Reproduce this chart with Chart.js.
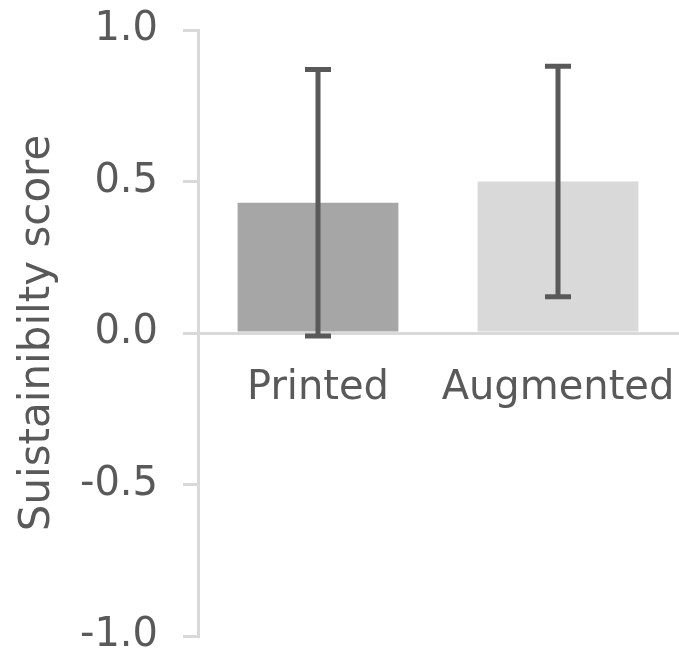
<!DOCTYPE html>
<html>
<head>
<meta charset="utf-8">
<script src="https://cdn.jsdelivr.net/npm/chart.js@4"></script>
<style>
  html, body { margin: 0; padding: 0; background: #fff; }
  #wrap { width: 679px; height: 656px; }
</style>
</head>
<body>
<div id="wrap"><canvas id="chart"></canvas></div>
<script>
// --- data ---
const categories = ["Printed", "Augmented"];
const means = [0.43, 0.50];
const errors = [0.44, 0.38];
const barColors = ["#a6a6a6", "#d9d9d9"];
const yTicks = [-1.0, -0.5, 0.0, 0.5, 1.0];

const textColor = "#595959";
const axisColor = "#d9d9d9";
const fontFamily = "'DejaVu Sans', sans-serif";

// error bars drawn through the chart's own scales
const errorBars = {
  id: "errorBars",
  afterDatasetsDraw(chart) {
    const ctx = chart.ctx;
    const meta = chart.getDatasetMeta(0);
    const y = chart.scales.y;
    ctx.save();
    ctx.strokeStyle = textColor;
    ctx.lineWidth = 5;
    meta.data.forEach((bar, i) => {
      const top = y.getPixelForValue(means[i] + errors[i]);
      const bot = y.getPixelForValue(means[i] - errors[i]);
      const half = 13;
      ctx.beginPath();
      ctx.moveTo(bar.x, top);
      ctx.lineTo(bar.x, bot);
      ctx.moveTo(bar.x - half, top);
      ctx.lineTo(bar.x + half, top);
      ctx.moveTo(bar.x - half, bot);
      ctx.lineTo(bar.x + half, bot);
      ctx.stroke();
    });
    ctx.restore();
  },
};

new Chart(document.getElementById("chart"), {
  type: "bar",
  data: {
    labels: categories,
    datasets: [
      {
        data: means,
        backgroundColor: barColors,
        barPercentage: 0.67,
        categoryPercentage: 1,
      },
    ],
  },
  options: {
    responsive: true,
    maintainAspectRatio: false,
    animation: false,
    layout: { padding: { top: 30, right: 1, bottom: 20, left: 0 } },
    plugins: { legend: { display: false }, tooltip: { enabled: false } },
    scales: {
      x: {
        position: { y: 0 },
        afterFit: (s) => {
          s.height = 0;
          s.paddingLeft = 0;
          s.paddingRight = 0;
        },
        grid: { display: false, drawTicks: false },
        border: { display: true, color: axisColor, width: 3 },
        ticks: {
          color: textColor,
          padding: 32,
          font: { family: fontFamily, size: 40 },
        },
      },
      y: {
        min: -1,
        max: 1,
        afterFit: (s) => {
          s.width = 198;
          s.paddingTop = 0;
          s.paddingBottom = 0;
        },
        afterBuildTicks: (s) => (s.ticks = yTicks.map((v) => ({ value: v }))),
        grid: {
          drawOnChartArea: false,
          drawTicks: true,
          tickLength: 15,
          color: axisColor,
          lineWidth: 3,
        },
        border: { display: true, color: axisColor, width: 3 },
        ticks: {
          color: textColor,
          padding: 25,
          font: { family: fontFamily, size: 40, lineHeight: 1 },
          callback: (v) => Number(v).toFixed(1),
        },
        title: {
          display: true,
          text: "Suistainibilty score",
          color: textColor,
          padding: { top: 13, bottom: 0 },
          font: { family: fontFamily, size: 42 },
        },
      },
    },
  },
  plugins: [errorBars],
});
</script>
</body>
</html>
